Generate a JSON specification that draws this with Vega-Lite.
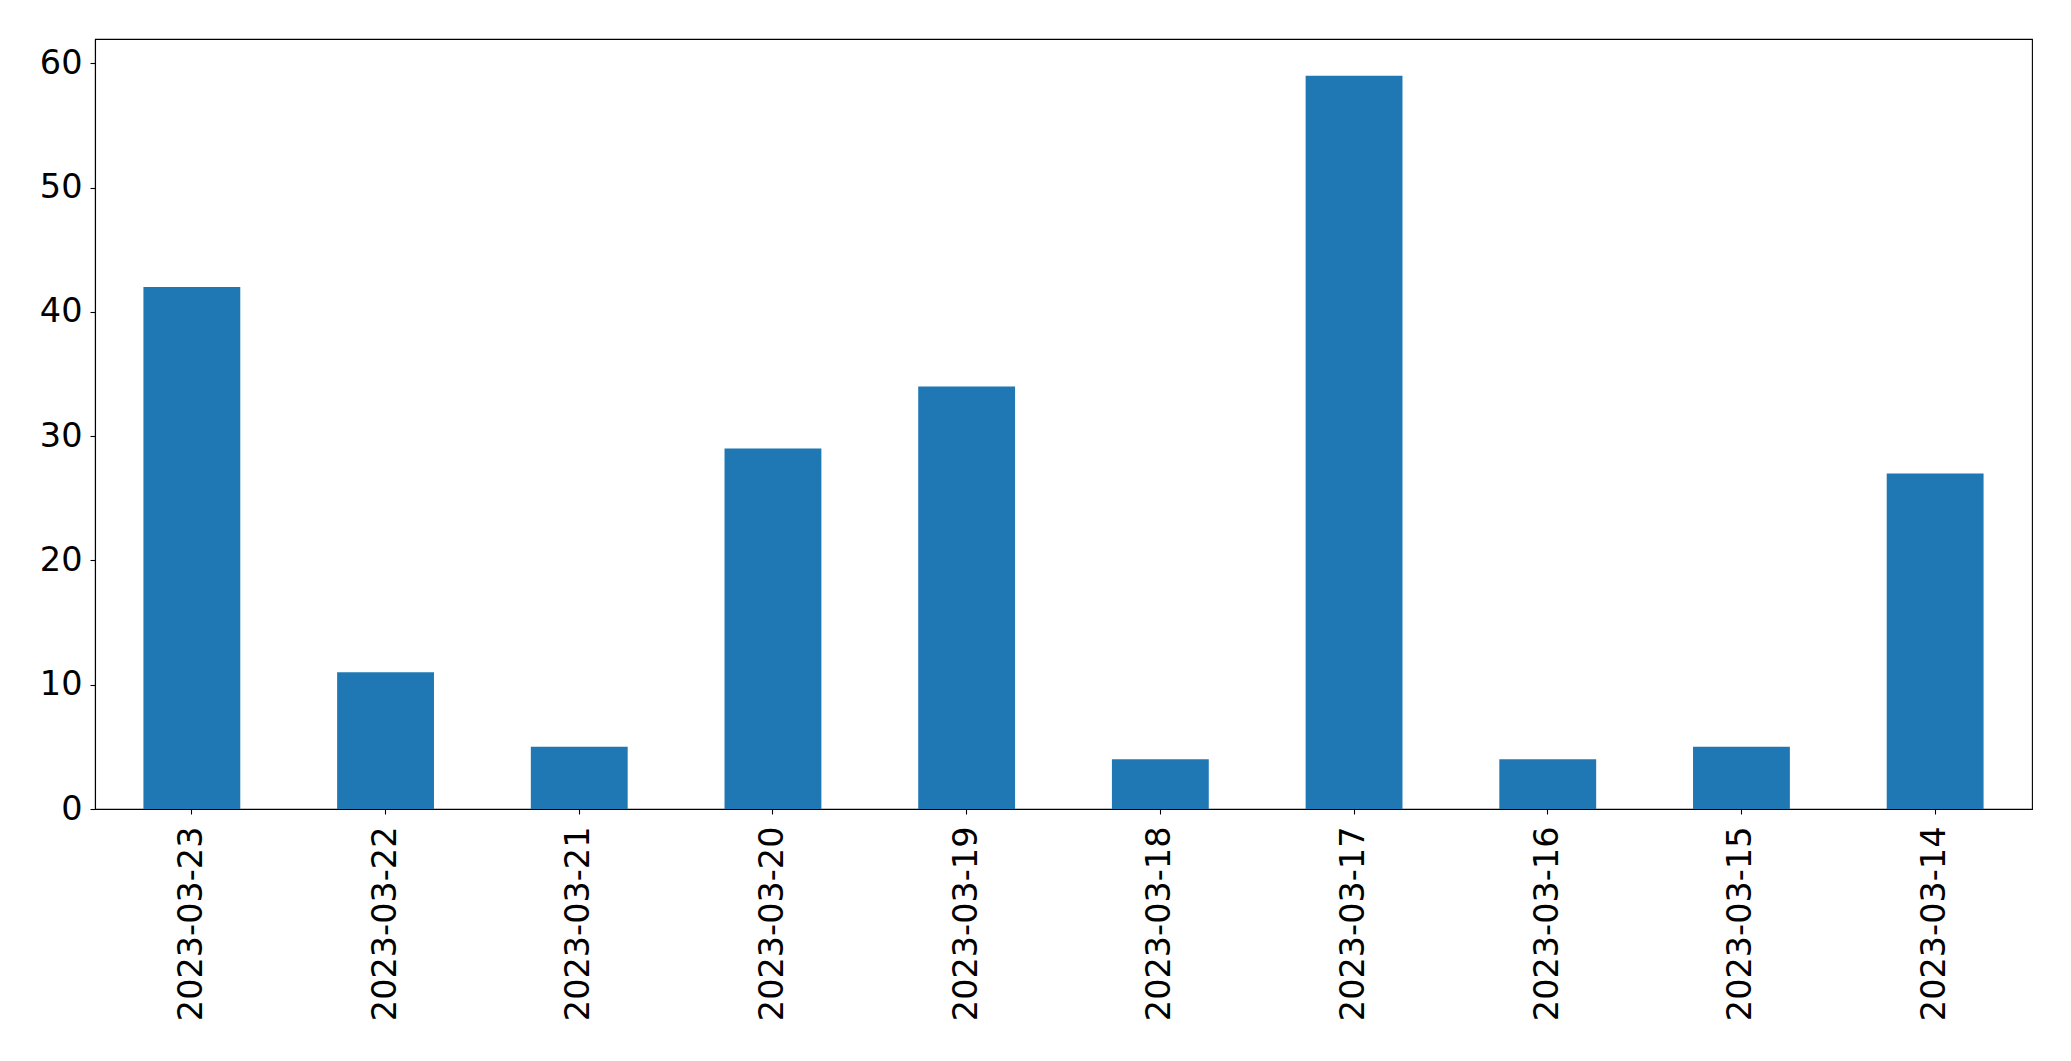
{
  "$schema": "https://vega.github.io/schema/vega-lite/v6.json",
  "autosize": "none",
  "padding": {"left": 95, "top": 39, "right": 39, "bottom": 252},
  "width": 1937,
  "height": 770,
  "background": "white",
  "config": {
    "view": {"stroke": "black", "strokeWidth": 1.1},
    "axis": {
      "labelFont": "DejaVu Sans",
      "labelFontSize": 33.5,
      "labelColor": "black",
      "labelLimit": 0,
      "domainColor": "black",
      "tickColor": "black",
      "tickSize": 5,
      "tickWidth": 1.1,
      "domainWidth": 1.1,
      "grid": false,
      "title": null
    }
  },
  "data": {
    "values": [
      {"date": "2023-03-23", "count": 42},
      {"date": "2023-03-22", "count": 11},
      {"date": "2023-03-21", "count": 5},
      {"date": "2023-03-20", "count": 29},
      {"date": "2023-03-19", "count": 34},
      {"date": "2023-03-18", "count": 4},
      {"date": "2023-03-17", "count": 59},
      {"date": "2023-03-16", "count": 4},
      {"date": "2023-03-15", "count": 5},
      {"date": "2023-03-14", "count": 27}
    ]
  },
  "mark": {"type": "bar", "color": "#1f77b4"},
  "encoding": {
    "x": {
      "field": "date",
      "type": "nominal",
      "sort": null,
      "scale": {"paddingInner": 0.5, "paddingOuter": 0.25},
      "axis": {"labelAngle": -90, "labelAlign": "right", "labelBaseline": "middle", "labelPadding": 12}
    },
    "y": {
      "field": "count",
      "type": "quantitative",
      "scale": {"domain": [0, 61.95], "nice": false, "zero": true},
      "axis": {"values": [0, 10, 20, 30, 40, 50, 60], "labelPadding": 8}
    }
  }
}
